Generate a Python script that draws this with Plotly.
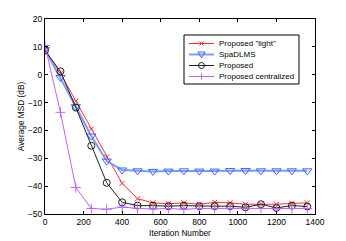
import plotly.graph_objects as go

iters = [0, 80, 160, 240, 320, 400, 480, 560, 640, 720, 800, 880, 960, 1040, 1120, 1200, 1280, 1360]
light = [9, 0.5, -9.5, -19.5, -29.5, -39, -44.5, -46, -46.3, -46, -46.5, -45.8, -46, -46.5, -46.5, -46.5, -46.2, -46]
spadlms = [9, -1, -11.5, -22, -31, -34.2, -34.5, -34.7, -34.6, -34.5, -34.6, -34.6, -34.4, -34.4, -34.5, -34.5, -34.5, -34.5]
proposed = [8.7, 1.2, -11.8, -25.5, -38.8, -45.8, -47, -47, -47.2, -47, -47.2, -47.2, -47.2, -47.6, -46.5, -47.8, -47, -47.3]
central = [10.5, -13.5, -40.5, -48, -48.3, -47.5, -48, -48.2, -48, -48.3, -48, -48, -48, -48, -48, -48.2, -48, -48]
names = ['Proposed "light"', "SpaDLMS", "Proposed", "Proposed centralized"]

RED, BLUE_L, BLUE_M, BLACK, PURPLE = "#ff3030", "#7a9cff", "#3f66ff", "#202020", "#c060ff"
font = "Liberation Sans, Arial, sans-serif"

W, H = 346, 241
L, R, T, B = 45, 31, 19, 27
PW, PH = W - L - R, H - T - B

def px(x):
    return (x - L) / PW

def py(y):
    return (H - B - y) / PH

fig = go.Figure()
fig.add_trace(go.Scatter(x=iters, y=light, name=names[0], mode="lines+markers",
                         line=dict(color=RED, width=1),
                         marker=dict(symbol="x-thin", size=5, line=dict(color=RED, width=1))))
fig.add_trace(go.Scatter(x=iters, y=spadlms, name=names[1], mode="lines+markers",
                         line=dict(color=BLUE_L, width=2),
                         marker=dict(symbol="triangle-down-open", size=8, color=BLUE_M, line=dict(width=1))))
fig.add_trace(go.Scatter(x=iters, y=proposed, name=names[2], mode="lines+markers",
                         line=dict(color=BLACK, width=1),
                         marker=dict(symbol="circle-open", size=7, color=BLACK, line=dict(width=1))))
fig.add_trace(go.Scatter(x=iters, y=central, name=names[3], mode="lines+markers",
                         line=dict(color=PURPLE, width=1),
                         marker=dict(symbol="cross-thin", size=7, line=dict(color=PURPLE, width=1))))

axis_common = dict(showgrid=False, zeroline=False, showline=True, mirror="ticks",
                   linecolor="black", linewidth=1, ticks="inside", ticklen=3,
                   tickcolor="black", automargin=False,
                   tickfont=dict(size=8.5, color="black", family=font))
fig.update_xaxes(range=[0, 1400], dtick=200,
                 title=dict(text="Iteration Number", font=dict(size=8.3, family=font, color="black"), standoff=3),
                 **axis_common)
fig.update_yaxes(range=[-50, 20], dtick=10,
                 title=dict(text="Average MSD (dB)", font=dict(size=8.3, family=font, color="black"), standoff=1),
                 **axis_common)

# manual legend (MATLAB-style compact box)
shapes = []
annotations = []
bx0, bx1, by0, by1 = 184, 299, 35, 84
shapes.append(dict(type="rect", xref="paper", yref="paper", x0=px(bx0), x1=px(bx1), y0=py(by0), y1=py(by1),
                   line=dict(color="black", width=1), fillcolor="white", layer="above"))
rows = [43.5, 54.5, 65.5, 76.5]
line_styles = [(RED, 1), (BLUE_L, 2), (BLACK, 1), (PURPLE, 1)]
cx = 201.5
for i, (ry, (col, lw)) in enumerate(zip(rows, line_styles)):
    shapes.append(dict(type="line", xref="paper", yref="paper", x0=px(189), x1=px(214), y0=py(ry), y1=py(ry),
                       line=dict(color=col, width=lw), layer="above"))
    annotations.append(dict(text=names[i], xref="paper", yref="paper", x=px(217), y=py(ry),
                            xanchor="left", yanchor="middle", showarrow=False,
                            font=dict(size=8, family=font, color="black")))
# marker glyphs
ry = rows[0]
for dx, dy in [(-2, -2), (-2, 2)]:
    shapes.append(dict(type="line", xref="paper", yref="paper", x0=px(cx + dx), x1=px(cx - dx),
                       y0=py(ry + dy), y1=py(ry - dy), line=dict(color=RED, width=1), layer="above"))
ry = rows[1]
path = "M {} {} L {} {} L {} {} Z".format(px(cx - 3.5), py(ry - 2.5), px(cx + 3.5), py(ry - 2.5), px(cx), py(ry + 3.5))
shapes.append(dict(type="path", xref="paper", yref="paper", path=path, line=dict(color=BLUE_M, width=1),
                   fillcolor="rgba(0,0,0,0)", layer="above"))
ry = rows[2]
shapes.append(dict(type="circle", xref="paper", yref="paper", x0=px(cx - 3), x1=px(cx + 3), y0=py(ry - 3), y1=py(ry + 3),
                   line=dict(color=BLACK, width=1), layer="above"))
ry = rows[3]
shapes.append(dict(type="line", xref="paper", yref="paper", x0=px(cx - 3), x1=px(cx + 3), y0=py(ry), y1=py(ry),
                   line=dict(color=PURPLE, width=1), layer="above"))
shapes.append(dict(type="line", xref="paper", yref="paper", x0=px(cx), x1=px(cx), y0=py(ry - 3), y1=py(ry + 3),
                   line=dict(color=PURPLE, width=1), layer="above"))

fig.update_layout(
    width=W, height=H,
    margin=dict(l=L, r=R, t=T, b=B),
    paper_bgcolor="white", plot_bgcolor="white",
    font=dict(family=font, size=8, color="black"),
    showlegend=False,
    hovermode=False,
    shapes=shapes, annotations=annotations,
)
fig.write_html("out.html", config={"displayModeBar": False, "staticPlot": True},
               post_script="document.body.style.margin='0';document.body.style.overflow='hidden';")
